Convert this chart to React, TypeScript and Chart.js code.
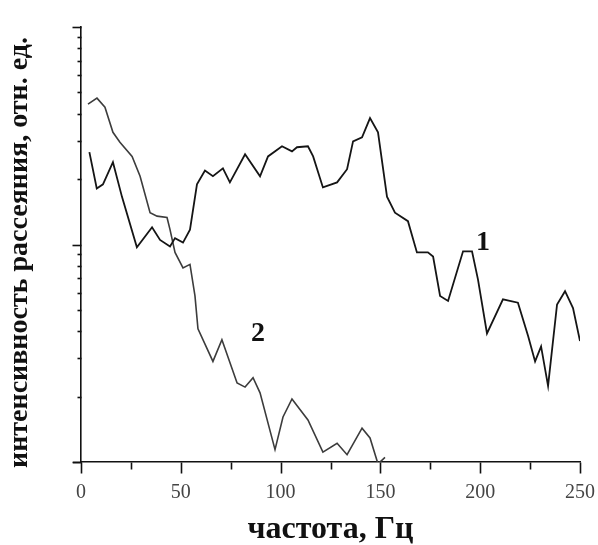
import React, { useEffect, useRef } from "react";
import { Chart, registerables } from "chart.js";

Chart.register(...registerables);

// Series 1 (black): frequency, Hz / intensity, rel. units
const series1X = [4.2, 7.9, 11, 16, 20.5, 28, 35.6, 39.6, 44.6, 47.1, 51.1, 54.6, 58.1, 62.1, 66.1, 71.1, 74.6, 82.2, 89.7, 93.7, 100.7, 105.7, 108.2, 113.7, 116.3, 121.2, 128.3, 133.3, 136.3, 140.8, 144.8, 148.8, 153.3, 157.3, 163.8, 168.3, 173.8, 176.4, 179.9, 183.9, 191.4, 195.9, 198.9, 203.4, 211.4, 218.9, 224.0, 227.5, 230.5, 234.0, 238.5, 242.5, 246.5, 250];
const series1Y = [26.6, 18.1, 18.9, 23.9, 16.6, 9.7, 12.0, 10.5, 9.8, 10.7, 10.2, 11.7, 18.9, 21.9, 20.6, 22.4, 19.3, 26.0, 20.6, 25.4, 28.3, 26.8, 28.0, 28.3, 25.4, 18.3, 19.3, 22.2, 29.8, 31.1, 38.1, 32.8, 16.6, 14.0, 12.8, 9.2, 9.2, 8.8, 5.8, 5.5, 9.3, 9.3, 6.9, 3.9, 5.6, 5.4, 3.8, 2.9, 3.4, 2.24, 5.3, 6.1, 5.1, 3.6];

// Series 2 (gray)
const series2X = [3.5, 8.0, 12.0, 16.0, 19.5, 25.6, 29.6, 34.6, 38.1, 43.1, 44.6, 47.1, 51.1, 54.6, 57.1, 58.6, 66.1, 70.6, 78.2, 82.2, 86.2, 89.7, 97.2, 101.2, 105.7, 113.7, 121.2, 128.3, 133.3, 140.8, 144.8, 148.8, 152.3];
const series2Y = [44.2, 47.1, 42.8, 32.8, 29.5, 25.4, 20.6, 14.0, 13.5, 13.3, 11.7, 9.2, 7.8, 8.1, 5.8, 4.1, 2.9, 3.65, 2.31, 2.21, 2.44, 2.08, 1.14, 1.61, 1.95, 1.56, 1.11, 1.22, 1.08, 1.43, 1.29, 0.98, 1.05];

const xTickValues = [0, 25, 50, 75, 100, 125, 150, 175, 200, 225, 250];
const xLabeledTicks = [0, 50, 100, 150, 200, 250];
const yDecades = [1, 10, 100];

const curveLabels = [
  { text: "1", x: 201.4, y: 10.2 },
  { text: "2", x: 88.7, y: 3.89 },
];

const xTitle = "частота, Гц";
const yTitle = "интенсивность рассеяния, отн. ед.";

const SERIF = "'Liberation Serif', 'Times New Roman', serif";

const axisPlugin = {
  id: "axisDecor",
  afterDraw(chart: any) {
    const { ctx, chartArea } = chart;
    const xs = chart.scales.x;
    const ys = chart.scales.y;
    ctx.save();
    ctx.strokeStyle = "#111";
    ctx.lineWidth = 1.6;
    // x axis extension to the left
    const yb = Math.round(chartArea.bottom) + 0.5;
    ctx.beginPath();
    ctx.moveTo(chartArea.left - 8, yb);
    ctx.lineTo(chartArea.left, yb);
    ctx.stroke();
    // x ticks
    xTickValues.forEach((v) => {
      const px = Math.round(xs.getPixelForValue(v)) + 0.5;
      const len = xLabeledTicks.includes(v) ? 11 : 7;
      ctx.beginPath();
      ctx.moveTo(px, yb);
      ctx.lineTo(px, yb + len);
      ctx.stroke();
    });
    // y ticks (log)
    const xl = Math.round(chartArea.left) + 0.5;
    yDecades.forEach((d) => {
      for (let m = 1; m <= 9; m++) {
        const v = m * d;
        if (v > 100) break;
        const py = Math.round(ys.getPixelForValue(v)) + 0.5;
        const len = m === 1 ? 9 : 4;
        ctx.beginPath();
        ctx.moveTo(xl - len, py);
        ctx.lineTo(xl, py);
        ctx.stroke();
      }
    });
    // curve labels
    ctx.fillStyle = "#111";
    ctx.font = `bold 28px ${SERIF}`;
    ctx.textAlign = "center";
    ctx.textBaseline = "middle";
    curveLabels.forEach((l) => {
      ctx.fillText(l.text, xs.getPixelForValue(l.x), ys.getPixelForValue(l.y));
    });
    // y axis title
    ctx.save();
    ctx.translate(20, (chartArea.top + chartArea.bottom) / 2 + 8);
    ctx.rotate(-Math.PI / 2);
    ctx.font = `bold 28px ${SERIF}`;
    ctx.fillText(yTitle, 0, 0);
    ctx.restore();
    ctx.restore();
  },
};

export default function App() {
  const ref = useRef<HTMLCanvasElement | null>(null);
  useEffect(() => {
    if (!ref.current) return;
    const chart = new Chart(ref.current, {
      type: "line",
      data: {
        datasets: [
          {
            data: series1X.map((x, i) => ({ x, y: series1Y[i] })),
            borderColor: "#151515",
            borderWidth: 1.8,
            pointRadius: 0,
            tension: 0,
          },
          {
            data: series2X.map((x, i) => ({ x, y: series2Y[i] })),
            borderColor: "#3c3c3c",
            borderWidth: 1.6,
            pointRadius: 0,
            tension: 0,
          },
        ],
      },
      options: {
        responsive: false,
        animation: false,
        layout: { padding: { top: 27, right: 18, left: 0, bottom: 0 } },
        plugins: { legend: { display: false }, tooltip: { enabled: false } },
        scales: {
          x: {
            type: "linear",
            min: 0,
            max: 250,
            afterFit: (s: any) => {
              s.height = 83;
            },
            afterBuildTicks: (s: any) => {
              s.ticks = xTickValues.map((v) => ({ value: v }));
            },
            grid: { display: true, color: "transparent", drawOnChartArea: false, drawTicks: true, tickLength: 19 },
            border: { display: true, color: "#111", width: 1.6 },
            ticks: {
              autoSkip: false,
              maxRotation: 0,
              padding: 0,
              color: "#444",
              font: { family: SERIF, size: 20 },
              callback: (v: any) => (xLabeledTicks.includes(Number(v)) ? String(v) : ""),
            },
            title: {
              display: true,
              text: xTitle,
              color: "#111",
              font: { family: SERIF, size: 32, weight: "bold", lineHeight: 1 },
              padding: { top: 0, bottom: -1 },
            },
          },
          y: {
            type: "logarithmic",
            min: 1,
            max: 100,
            afterFit: (s: any) => {
              s.width = 81;
            },
            grid: { display: false },
            border: { display: true, color: "#111", width: 1.6 },
            ticks: { display: false },
            title: { display: false },
          },
        },
      },
      plugins: [axisPlugin],
    });
    return () => chart.destroy();
  }, []);
  return (
    <div style={{ position: "fixed", left: 0, top: 0, width: 598, height: 545, background: "#fff" }}>
      <canvas ref={ref} width={598} height={545} style={{ display: "block" }} />
    </div>
  );
}
